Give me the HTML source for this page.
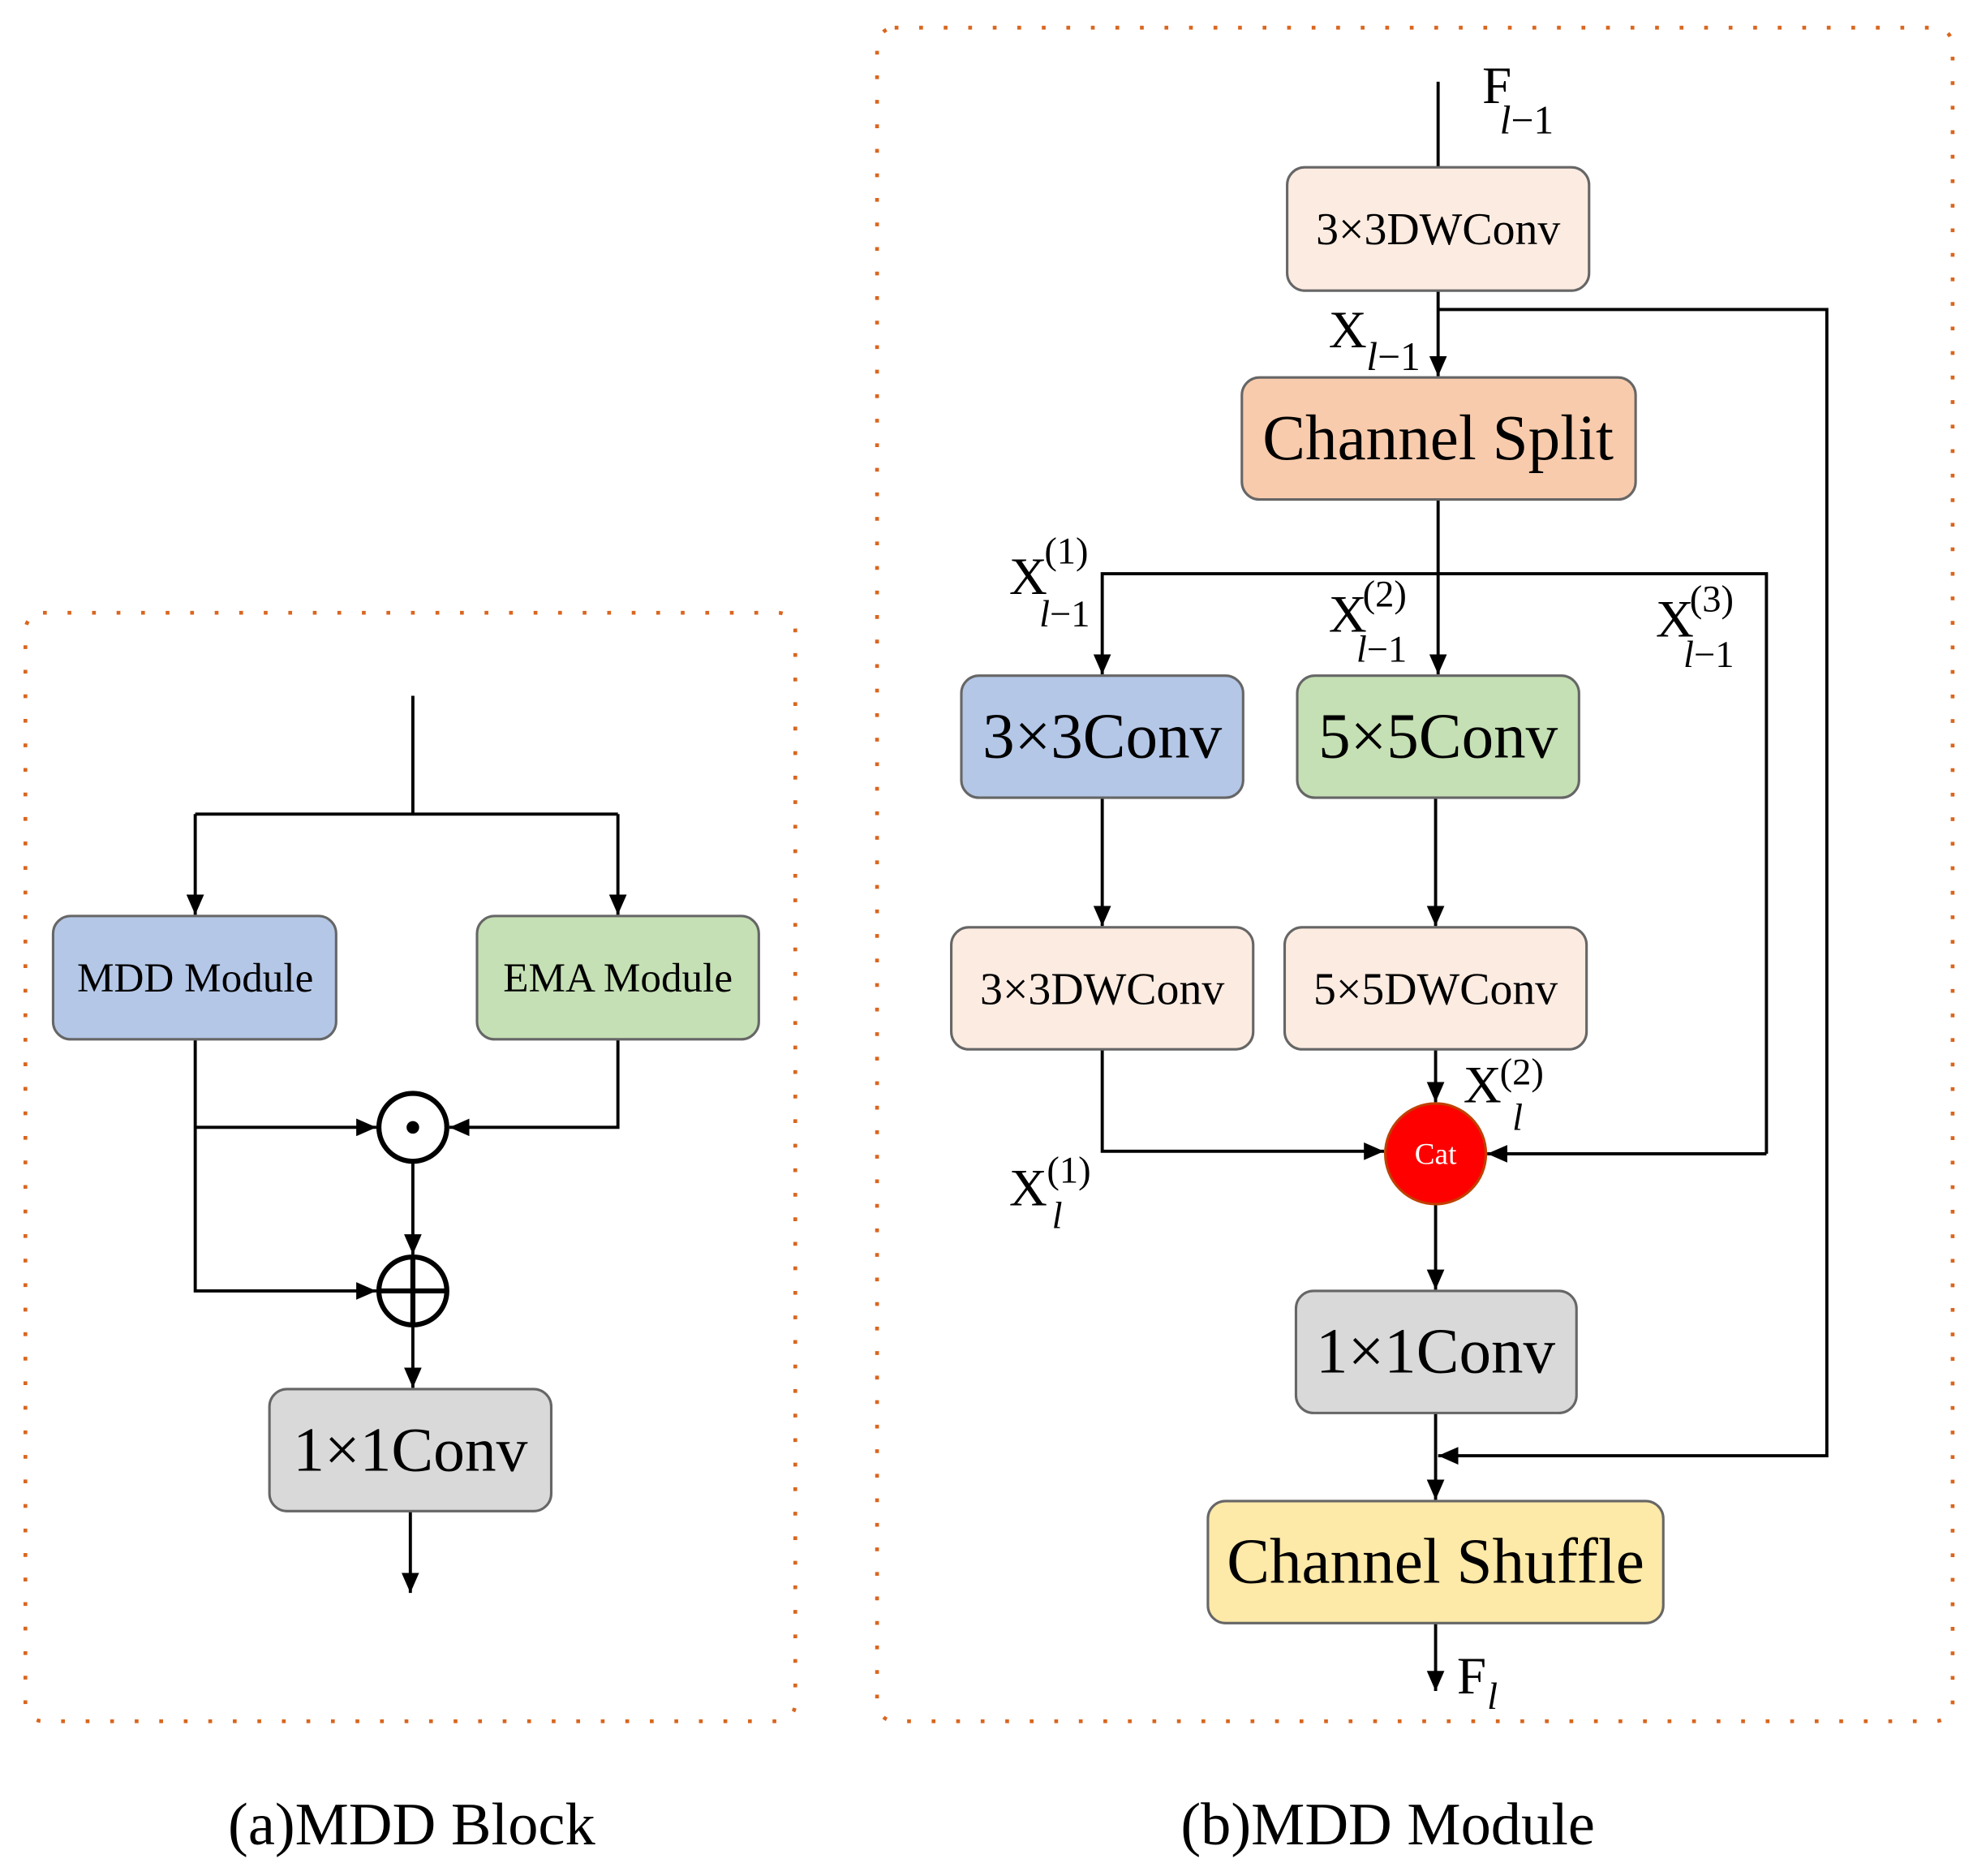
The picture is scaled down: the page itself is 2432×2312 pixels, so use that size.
<!DOCTYPE html>
<html><head><meta charset="utf-8"><style>
html,body{margin:0;padding:0;background:#fff}
svg{display:block}
</style></head><body>
<svg width="2432" height="2312" viewBox="0 0 1568 1491" xmlns="http://www.w3.org/2000/svg" font-family="'Liberation Serif', serif">
<defs>
<marker id="a" viewBox="0 0 16 14" refX="16" refY="7" markerWidth="16" markerHeight="14" markerUnits="userSpaceOnUse" orient="auto">
<path d="M0,0 L16,7 L0,14 z" fill="#000"/></marker>
</defs>
<g fill="none" stroke="#d9661f" stroke-width="3" stroke-dasharray="3 16.5">
<rect x="20" y="487" width="612" height="881" rx="14"/>
<rect x="697" y="22" width="855" height="1346" rx="14"/>
</g>
<g stroke="#000" stroke-width="2.5" fill="none">
<path d="M328 553 V647"/>
<path d="M155 647 H491"/>
<path d="M155 647 V727" marker-end="url(#a)"/>
<path d="M491 647 V727" marker-end="url(#a)"/>
<path d="M155 826 V1026 H299" marker-end="url(#a)"/>
<path d="M155 896 H299" marker-end="url(#a)"/>
<path d="M491 826 V896 H357" marker-end="url(#a)"/>
<path d="M328 924 V997" marker-end="url(#a)"/>
<path d="M328 1054 V1103" marker-end="url(#a)"/>
<path d="M326 1201 V1266" marker-end="url(#a)"/>
<path d="M1143 65 V133"/>
<path d="M1143 231 V299" marker-end="url(#a)"/>
<path d="M1143 246 H1452 V1157 H1143" marker-end="url(#a)"/>
<path d="M1143 397 V536" marker-end="url(#a)"/>
<path d="M1404 917 H1182" marker-end="url(#a)"/>
<path d="M1404 917 V456 H876 V536" marker-end="url(#a)"/>
<path d="M876 634 V736" marker-end="url(#a)"/>
<path d="M1141 634 V736" marker-end="url(#a)"/>
<path d="M876 834 V915 H1100" marker-end="url(#a)"/>
<path d="M1141 834 V876" marker-end="url(#a)"/>
<path d="M1141 957 V1025" marker-end="url(#a)"/>
<path d="M1141 1123 V1192" marker-end="url(#a)"/>
<path d="M1141 1290 V1344" marker-end="url(#a)"/>
</g>
<g stroke="#666" stroke-width="2">
<rect x="42" y="728" width="225" height="98" rx="14" fill="#b4c7e7"/>
<rect x="379" y="728" width="224" height="98" rx="14" fill="#c5e0b4"/>
<rect x="214" y="1104" width="224" height="97" rx="14" fill="#d9d9d9"/>
<rect x="1023" y="133" width="240" height="98" rx="14" fill="#fcebe0"/>
<rect x="987" y="300" width="313" height="97" rx="14" fill="#f8cbad"/>
<rect x="764" y="537" width="224" height="97" rx="14" fill="#b4c7e7"/>
<rect x="1031" y="537" width="224" height="97" rx="14" fill="#c5e0b4"/>
<rect x="756" y="737" width="240" height="97" rx="14" fill="#fcebe0"/>
<rect x="1021" y="737" width="240" height="97" rx="14" fill="#fcebe0"/>
<rect x="1030" y="1026" width="223" height="97" rx="14" fill="#d9d9d9"/>
<rect x="960" y="1193" width="362" height="97" rx="14" fill="#fde9a8"/>
</g>
<circle cx="328" cy="896" r="27" fill="#fff" stroke="#000" stroke-width="4"/>
<circle cx="328" cy="896" r="5" fill="#000"/>
<circle cx="328" cy="1026" r="27" fill="#fff" stroke="#000" stroke-width="4"/>
<path d="M328 999 V1053 M301 1026 H355" stroke="#000" stroke-width="4"/>
<circle cx="1141" cy="917" r="40" fill="#ff0000" stroke="#c04000" stroke-width="2"/>
<text x="1141" y="925" font-size="24" text-anchor="middle" fill="#fff">Cat</text>
<g text-anchor="middle" fill="#000">
<text x="155" y="788" font-size="33">MDD Module</text>
<text x="491" y="788" font-size="33">EMA Module</text>
<text x="326" y="1169" font-size="50">1×1Conv</text>
<text x="1143" y="194" font-size="36">3×3DWConv</text>
<text x="1143" y="365" font-size="51">Channel Split</text>
<text x="876" y="602" font-size="51">3×3Conv</text>
<text x="1143" y="602" font-size="51">5×5Conv</text>
<text x="876" y="798" font-size="36">3×3DWConv</text>
<text x="1141" y="798" font-size="36">5×5DWConv</text>
<text x="1141" y="1091" font-size="51">1×1Conv</text>
<text x="1141" y="1258" font-size="51">Channel Shuffle</text>
<text x="327" y="1466" font-size="48">(a)MDD Block</text>
<text x="1103" y="1466" font-size="48">(b)MDD Module</text>
</g>
<g font-size="42" fill="#000">
<text x="1178" y="82">F</text><text x="1192" y="106" font-size="32"><tspan font-style="italic">l</tspan>−1</text>
<text x="1056" y="276">X</text><text x="1086" y="294" font-size="32"><tspan font-style="italic">l</tspan>−1</text>
<text x="802" y="472">X</text><text x="830" y="448" font-size="30">(1)</text><text x="826" y="498" font-size="30"><tspan font-style="italic">l</tspan>−1</text>
<text x="1056" y="502">X</text><text x="1083" y="482" font-size="30">(2)</text><text x="1078" y="526" font-size="30"><tspan font-style="italic">l</tspan>−1</text>
<text x="1316" y="506">X</text><text x="1343" y="486" font-size="30">(3)</text><text x="1338" y="530" font-size="30"><tspan font-style="italic">l</tspan>−1</text>
<text x="1163" y="876">X</text><text x="1192" y="862" font-size="30">(2)</text><text x="1202" y="898" font-size="30" font-style="italic">l</text>
<text x="802" y="958">X</text><text x="832" y="940" font-size="30">(1)</text><text x="836" y="976" font-size="30" font-style="italic">l</text>
<text x="1158" y="1346">F</text><text x="1182" y="1358" font-size="30" font-style="italic">l</text>
</g>
</svg>
</body></html>
